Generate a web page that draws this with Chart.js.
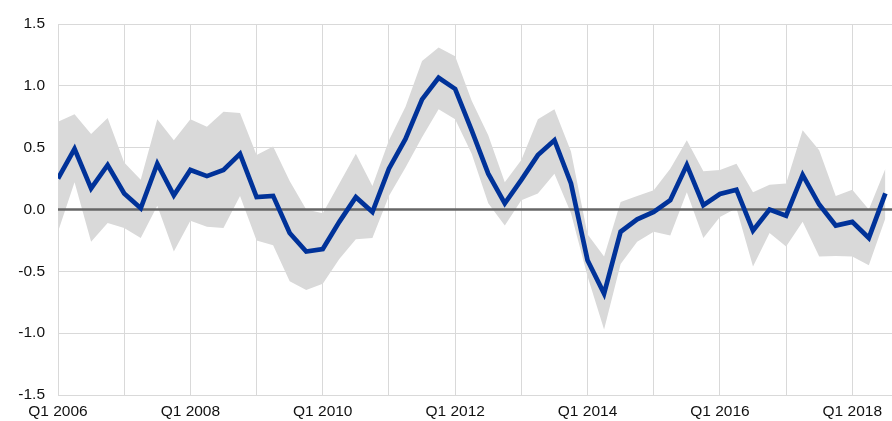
<!DOCTYPE html>
<html>
<head>
<meta charset="utf-8">
<script src="https://cdn.jsdelivr.net/npm/chart.js@4"></script>
<style>
  html, body { margin:0; padding:0; background:#fff; }
  #wrap { width:892px; height:421px; position:relative; }
</style>
</head>
<body>
<div id="wrap"><canvas id="chart"></canvas></div>
<script>
// quarterly data, Q1 2006 .. Q3 2018
const startYear = 2006;
const quarters = [];
for (let y = startYear; y <= 2018; y++) for (let q = 1; q <= 4; q++) quarters.push('Q' + q + ' ' + y);
quarters.length = 51;

const central = [0.25,0.49,0.17,0.36,0.13,0.01,0.37,0.115,0.32,0.27,0.32,0.45,0.10,0.11,-0.19,-0.34,-0.32,-0.10,0.10,-0.02,
  0.33,0.57,0.89,1.065,0.975,0.64,0.29,0.05,0.24,0.44,0.56,0.21,-0.41,-0.68,-0.18,-0.08,-0.02,0.075,0.36,0.035,
  0.125,0.16,-0.17,0.0,-0.05,0.28,0.04,-0.13,-0.10,-0.23,0.13];
const upper = [0.71,0.77,0.61,0.74,0.38,0.24,0.73,0.56,0.73,0.67,0.79,0.78,0.44,0.51,0.23,0.0,-0.03,0.21,0.45,0.19,
  0.56,0.83,1.20,1.31,1.24,0.88,0.60,0.22,0.40,0.73,0.81,0.47,-0.2,-0.38,0.06,0.11,0.155,0.33,0.56,0.31,
  0.32,0.37,0.14,0.2,0.21,0.64,0.48,0.11,0.16,0.0,0.33];
const lower = [-0.18,0.22,-0.26,-0.11,-0.15,-0.23,0.03,-0.34,-0.09,-0.14,-0.15,0.11,-0.25,-0.29,-0.58,-0.65,-0.60,-0.40,-0.24,-0.23,
  0.11,0.34,0.585,0.81,0.73,0.45,0.05,-0.13,0.075,0.13,0.29,-0.03,-0.54,-0.97,-0.44,-0.26,-0.18,-0.21,0.14,-0.23,
  -0.06,0.01,-0.46,-0.19,-0.30,-0.10,-0.38,-0.375,-0.38,-0.45,-0.07];
const yTicks = [-1.5,-1.0,-0.5,0.0,0.5,1.0,1.5];

const pts = arr => arr.map((v,i) => ({x:i, y:v}));

// zero line sits above the band but under the blue line
const zeroLine = {
  id:'zeroLine',
  beforeDatasetDraw(chart, args){
    if (args.index !== 0) return;
    const {ctx, chartArea, scales} = chart;
    const y = scales.y.getPixelForValue(0);
    ctx.save();
    ctx.strokeStyle = '#666666';
    ctx.lineWidth = 2.5;
    ctx.beginPath();
    ctx.moveTo(chartArea.left, y);
    ctx.lineTo(chartArea.right, y);
    ctx.stroke();
    ctx.restore();
  }
};

new Chart(document.getElementById('chart'), {
  type:'line',
  data:{
    datasets:[
      {data:pts(central), borderColor:'#003299', borderWidth:4.7, pointRadius:0, tension:0, fill:false},
      {data:pts(upper), borderWidth:0, borderColor:'rgba(0,0,0,0)', pointRadius:0, tension:0, fill:'+1', backgroundColor:'#d9d9d9'},
      {data:pts(lower), borderWidth:0, borderColor:'rgba(0,0,0,0)', pointRadius:0, tension:0, fill:false}
    ]
  },
  options:{
    responsive:true,
    maintainAspectRatio:false,
    animation:false,
    layout:{padding:{top:24, right:0, left:0, bottom:0}},
    plugins:{legend:{display:false}, tooltip:{enabled:false}},
    scales:{
      x:{
        type:'linear', min:0, max:50.4,
        grid:{color:'#d9d9d9', lineWidth:1, drawTicks:false},
        border:{display:false},
        ticks:{
          stepSize:4, includeBounds:false, autoSkip:false, maxRotation:0, padding:7,
          color:'#111', font:{family:'"Liberation Sans", Arial, sans-serif', size:15.5},
          callback:v => (v % 8 === 0 ? 'Q1 ' + quarters[v].split(' ')[1] : '')
        },
        afterFit:s => { s.height = 26; }
      },
      y:{
        min:-1.5, max:1.5,
        afterBuildTicks:s => { s.ticks = yTicks.map(v => ({value:v})); },
        grid:{color:'#d9d9d9', lineWidth:1, drawTicks:false},
        border:{display:false},
        ticks:{
          padding:13, color:'#111', font:{family:'"Liberation Sans", Arial, sans-serif', size:15.5},
          callback:v => v.toFixed(1)
        },
        afterFit:s => { s.width = 58; }
      }
    }
  },
  plugins:[zeroLine]
});
</script>
</body>
</html>
